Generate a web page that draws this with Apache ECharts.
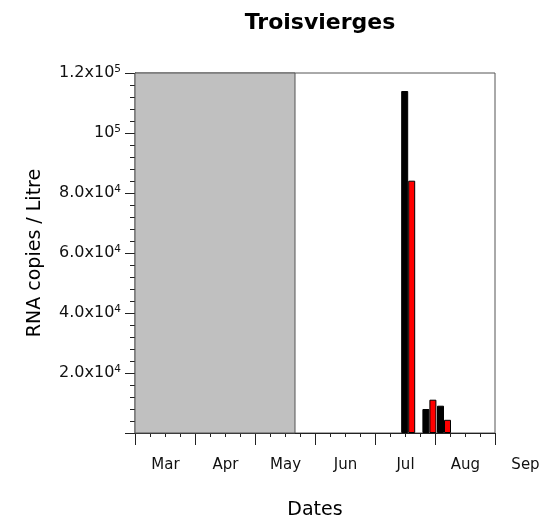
<!DOCTYPE html>
<html>
<head>
<meta charset="utf-8">
<script src="https://cdn.jsdelivr.net/npm/echarts@6/dist/echarts.min.js"></script>
<style>
  html, body { margin: 0; padding: 0; background: #fff; }
  #chart { width: 542px; height: 522px; }
</style>
</head>
<body>
<div id="chart"></div>
<script>
// 采样日期(距离 3 月 1 日的天数)
const sampleDays = [136.6, 147.2, 154.5]
const seriesBlack = [114000, 8000, 9100]
const seriesRed = [84100, 11100, 4400]
// 灰色区域(无数据期)
const shadedStartDay = 0
const shadedEndDay = 80
// 坐标轴标签
const monthLabels = ['Mar', 'Apr', 'May', 'Jun', 'Jul', 'Aug', 'Sep']
const yTickValues = [20000, 40000, 60000, 80000, 100000, 120000]
const yTickBase = ['2.0x10', '4.0x10', '6.0x10', '8.0x10', '10', '1.2x10']
const yTickExp = ['4', '4', '4', '4', '5', '5']

const font = 'DejaVu Sans, sans-serif'
const chart = echarts.init(document.getElementById('chart'))

const option = {
  animation: false,
  textStyle: { fontFamily: font },
  title: {
    text: 'Troisvierges',
    left: 315,
    top: 7,
    textAlign: 'center',
    textStyle: { fontSize: 22, fontWeight: 'bold', color: '#000', fontFamily: font }
  },
  grid: {
    left: 135,
    right: 47,
    top: 73,
    bottom: 89,
    outerBoundsMode: 'none',
    containLabel: false,
    show: true,
    borderColor: '#555',
    borderWidth: 1,
    backgroundColor: 'transparent'
  },
  xAxis: {
    type: 'value',
    min: 0,
    max: 180,
    interval: 30,
    name: 'Dates',
    nameLocation: 'middle',
    nameGap: 68,
    nameTextStyle: { fontSize: 19, color: '#000' },
    splitLine: { show: false },
    axisLine: { onZero: false, lineStyle: { color: '#222', width: 1 } },
    axisTick: { show: true, inside: false, length: 12, lineStyle: { color: '#222' } },
    minorTick: { show: true, splitNumber: 4, length: 4, lineStyle: { color: '#222' } },
    axisLabel: {
      margin: 25,
      showMinLabel: true,
      showMaxLabel: true,
      formatter: function (v) {
        const i = Math.round(v / 30)
        return '{m|' + (monthLabels[i] || '') + '}'
      },
      rich: {
        m: { fontSize: 15, color: '#111', padding: [0, 0, 0, 61] }
      }
    }
  },
  yAxis: {
    type: 'value',
    min: 0,
    max: 120000,
    interval: 20000,
    name: 'RNA copies / Litre',
    nameLocation: 'middle',
    nameRotate: 90,
    nameGap: 90,
    nameTextStyle: { fontSize: 19, color: '#000' },
    splitLine: { show: false },
    axisLine: { show: true, lineStyle: { color: '#222', width: 1 } },
    axisTick: { show: true, inside: false, length: 10, lineStyle: { color: '#222' } },
    minorTick: { show: true, splitNumber: 5, length: 5, lineStyle: { color: '#222' } },
    axisLabel: {
      margin: 14,
      formatter: function (v) {
        const i = yTickValues.indexOf(v)
        if (i < 0) return ''
        return '{b|' + yTickBase[i] + '}{s|' + yTickExp[i] + '}'
      },
      rich: {
        b: { fontSize: 16, color: '#111' },
        s: { fontSize: 10.5, color: '#111', verticalAlign: 'bottom', padding: [0, 0, 8, 0] }
      }
    }
  },
  series: [
    {
      name: 'black',
      type: 'bar',
      barWidth: 7,
      barGap: '0%',
      itemStyle: { color: '#000', borderColor: '#000', borderWidth: 1 },
      data: sampleDays.map((d, i) => [d, seriesBlack[i]]),
      markArea: {
        silent: true,
        itemStyle: { color: '#c0c0c0', borderColor: '#555', borderWidth: 1 },
        data: [[{ xAxis: shadedStartDay }, { xAxis: shadedEndDay }]]
      }
    },
    {
      name: 'red',
      type: 'bar',
      barWidth: 7,
      barGap: '0%',
      itemStyle: { color: '#ff0000', borderColor: '#000', borderWidth: 1 },
      data: sampleDays.map((d, i) => [d, seriesRed[i]])
    }
  ]
}

chart.setOption(option)
</script>
</body>
</html>
